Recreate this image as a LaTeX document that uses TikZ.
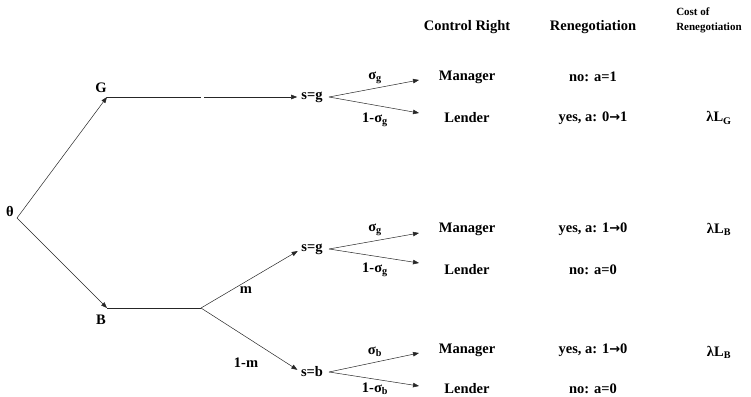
\documentclass[tikz,border=0pt]{standalone}
\usepackage{fontspec}
\setmainfont{Liberation Serif}
\newfontfamily\arrowfont{DejaVu Sans}
\newcommand{\goesto}{{\arrowfont\bfseries\fontsize{13}{16}\selectfont →}}
\usetikzlibrary{arrows.meta}

\begin{document}
\begin{tikzpicture}[x=1pt,y=-1pt,>={Triangle[length=6pt,width=4.5pt]},draw=black!85,line width=0.5pt]
	\fontsize{14.5}{16}\selectfont\bfseries
	\tikzstyle{label}=[inner sep=0pt, text centered]
	\tikzstyle{state}=[inner sep=0pt]
	\tikzstyle{small}=[inner sep=0pt, align=left, anchor=west, font=\fontsize{11}{15}\selectfont\bfseries]
	
	\def \ctrl{467}
	\def \reneg{593}
	\def \cost{719}
	\def \prob{375}
	\def \tip{419}
	
	\useasboundingbox (0,0) rectangle (751,396);
	
	% column heads
	\node[label] 	(h-ctrl)	at (\ctrl,27)	{Control Right};
	\node[label] 	(h-reneg)	at (\reneg,27)	{Renegotiation};
	\node[small] 	(h-cost)	at (676,20)		{Cost of\\Renegotiation};
	
	% nature
	\node[label] 	(theta)	at (10,211)		{θ};
	\coordinate 	(root)	at (17,218);
	
	\node[label] 	(G)		at (101,88)		{G};
	\coordinate 	(g0)	at (107,97);
	\coordinate 	(g1)	at (201,97);
	\coordinate 	(g2)	at (204,97);
	
	\node[label] 	(B)		at (101,320)	{B};
	\coordinate 	(b0)	at (107,308);
	\coordinate 	(b1)	at (201,308);
	
	\draw[->] (root) -- (g0);
	\draw[->] (root) -- (b0);
	\draw (g0) -- (g1);
	\draw[line width=0.9pt] (b0) -- (b1);
	
	% signals
	\node[state] 	(sg-a)	at (312,97)		{s=g};
	\node[state] 	(sg-b)	at (312,249)	{s=g};
	\node[state] 	(sb)	at (312,372)	{s=b};
	
	\draw[->,shorten >=4pt] (g2) -- (sg-a.west);
	\draw[->,shorten >=4pt] (b1) -- (sg-b.west);
	\draw[->,shorten >=4pt] (b1) -- (sb.west);
	
	\node[label] 	(m)		at (246,290)	{m};
	\node[label] 	(1-m)	at (246,363)	{1-m};
	
	% control right
	\coordinate 	(fa)	at (329,97);
	\coordinate 	(fa1)	at (\tip,80);
	\coordinate 	(fa2)	at (\tip,113);
	\coordinate 	(fb)	at (329,249);
	\coordinate 	(fb1)	at (\tip,233);
	\coordinate 	(fb2)	at (\tip,263);
	\coordinate 	(fc)	at (329,372);
	\coordinate 	(fc1)	at (\tip,353);
	\coordinate 	(fc2)	at (\tip,386);
	
	\draw[->] (fa) -- (fa1);
	\draw[->] (fa) -- (fa2);
	\draw[->] (fb) -- (fb1);
	\draw[->] (fb) -- (fb2);
	\draw[->] (fc) -- (fc1);
	\draw[->] (fc) -- (fc2);
	
	\node[label] 	(pa1)	at (\prob,78)	{σ\textsubscript{g}};
	\node[label] 	(pa2)	at (\prob,120)	{1-σ\textsubscript{g}};
	\node[label] 	(pb1)	at (\prob,230)	{σ\textsubscript{g}};
	\node[label] 	(pb2)	at (\prob,270)	{1-σ\textsubscript{g}};
	\node[label] 	(pc1)	at (\prob,352)	{σ\textsubscript{b}};
	\node[label] 	(pc2)	at (\prob,389)	{1-σ\textsubscript{b}};
	
	\node[label] 	(ca1)	at (\ctrl,77)	{Manager};
	\node[label] 	(ca2)	at (\ctrl,118)	{Lender};
	\node[label] 	(cb1)	at (\ctrl,229)	{Manager};
	\node[label] 	(cb2)	at (\ctrl,270)	{Lender};
	\node[label] 	(cc1)	at (\ctrl,350)	{Manager};
	\node[label] 	(cc2)	at (\ctrl,389)	{Lender};
	
	% renegotiation
	\node[label] 	(ra1)	at (\reneg,77)	{no: a=1};
	\node[label] 	(ra2)	at (\reneg,118)	{yes, a: 0\goesto1};
	\node[label] 	(rb1)	at (\reneg,229)	{yes, a: 1\goesto0};
	\node[label] 	(rb2)	at (\reneg,270)	{no: a=0};
	\node[label] 	(rc1)	at (\reneg,350)	{yes, a: 1\goesto0};
	\node[label] 	(rc2)	at (\reneg,389)	{no: a=0};
	
	\node[label] 	(ka2)	at (\cost,118)	{λL\textsubscript{G}};
	\node[label] 	(kb1)	at (\cost,229)	{λL\textsubscript{B}};
	\node[label] 	(kc1)	at (\cost,352)	{λL\textsubscript{B}};
\end{tikzpicture}
\end{document}
